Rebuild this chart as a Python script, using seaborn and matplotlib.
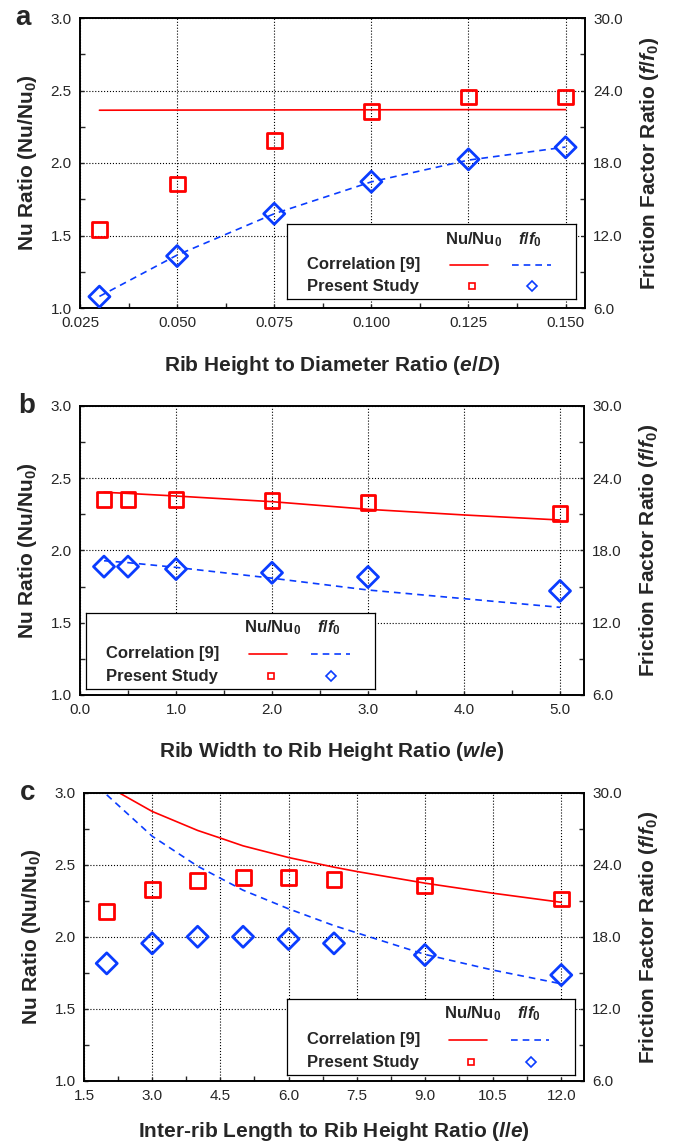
import matplotlib
matplotlib.use("Agg")
import matplotlib.pyplot as plt
from matplotlib.lines import Line2D
from matplotlib.ticker import MultipleLocator, FormatStrFormatter
import seaborn as sns

# panel a: rib height to diameter ratio
a_x = [0.03, 0.05, 0.075, 0.10, 0.125, 0.15]
a_nu_exp = [1.54, 1.855, 2.155, 2.355, 2.455, 2.455]
a_f_exp = [6.94, 10.3, 13.8, 16.45, 18.3, 19.3]
a_nu_corr = [2.364, 2.365, 2.366, 2.367, 2.368, 2.368]
a_f_corr = [6.96, 10.38, 13.8, 16.44, 18.24, 19.32]

# panel b: rib width to rib height ratio
b_x = [0.25, 0.5, 1.0, 2.0, 3.0, 5.0]
b_nu_exp = [2.354, 2.354, 2.354, 2.349, 2.331, 2.257]
b_f_exp = [16.66, 16.66, 16.46, 16.15, 15.8, 14.64]
b_corr_x = [0.25, 0.5, 1.0, 2.0, 3.0, 4.0, 5.0]
b_nu_corr = [2.403, 2.395, 2.377, 2.338, 2.285, 2.246, 2.211]
b_f_corr = [17.15, 16.99, 16.6, 15.7, 14.72, 14.0, 13.28]

# panel c: inter-rib length to rib height ratio
c_x = [2, 3, 4, 5, 6, 7, 9, 12]
c_nu_exp = [2.176, 2.332, 2.392, 2.413, 2.413, 2.397, 2.355, 2.264]
c_f_exp = [15.8, 17.47, 18.02, 18.02, 17.83, 17.47, 16.5, 14.83]
c_corr_x = [2, 3, 4, 4.5, 5, 6, 7, 7.5, 9, 10.5, 12]
c_nu_corr = [3.05, 2.872, 2.74, 2.687, 2.633, 2.552, 2.485, 2.455, 2.374, 2.304, 2.241]
c_f_corr = [29.85, 26.4, 23.9, 22.9, 21.9, 20.35, 18.95, 18.35, 16.55, 15.24, 14.1]

RED = "#ff0000"
BLUE = "#0a3cff"

sns.set_style("ticks")
plt.rcParams["font.family"] = ["Liberation Sans", "DejaVu Sans"]
plt.rcParams["mathtext.fontset"] = "custom"
plt.rcParams["mathtext.rm"] = "Liberation Sans:bold"
plt.rcParams["mathtext.bf"] = "Liberation Sans:bold"
plt.rcParams["mathtext.it"] = "Liberation Sans:italic:bold"

fig = plt.figure(figsize=(6.76, 11.46), dpi=100)
W, H = 676, 1146


def px_axes(left, top, right, bottom):
    return fig.add_axes([left / W, 1 - bottom / H, (right - left) / W, (bottom - top) / H])


def draw_legend(ax2, box):
    ins = ax2.inset_axes(box)
    ins.set_zorder(10)
    ins.set_facecolor("white")
    ins.set_xlim(0, 1)
    ins.set_ylim(0, 1)
    ins.set_xticks([])
    ins.set_yticks([])
    for s in ins.spines.values():
        s.set_linewidth(0.9)
        s.set_color("black")
    kw = dict(fontsize=12, fontweight="bold", va="center")
    ins.text(0.645, 0.80, r"Nu/Nu$_\mathrm{0}$", ha="center", **kw)
    ins.text(0.842, 0.80, r"$\mathit{f/f_0}$", ha="center", **kw)
    ins.text(0.07, 0.46, "Correlation [9]", ha="left", **kw)
    ins.text(0.07, 0.17, "Present Study", ha="left", **kw)
    ins.add_line(Line2D([0.565, 0.696], [0.46, 0.46], color=RED, lw=1.2))
    ins.add_line(Line2D([0.778, 0.913], [0.46, 0.46], color=BLUE, lw=1.2,
                        ls=(0, (4, 3))))
    ins.add_line(Line2D([0.64], [0.17], marker="s", ms=5, mfc="none",
                        mec=RED, mew=1.2, ls="none"))
    ins.add_line(Line2D([0.848], [0.17], marker="D", ms=5, mfc="none",
                        mec=BLUE, mew=1.2, ls="none"))


def panel(ax, xlim, xmajor, xfmt, xlabel, x_exp, nu_exp, f_exp,
          corr_x, nu_corr, f_corr, legbox, xpad):
    ax2 = ax.twinx()
    ax.set_xlim(*xlim)
    ax.set_ylim(1.0, 3.0)
    ax2.set_ylim(6.0, 30.0)

    sns.lineplot(x=corr_x, y=nu_corr, ax=ax, color=RED, linewidth=1.2, sort=False)
    sns.scatterplot(x=x_exp, y=nu_exp, ax=ax, marker="s", s=115, color=RED,
                    facecolor="none", edgecolor=RED, linewidth=2, zorder=4)
    sns.lineplot(x=corr_x, y=f_corr, ax=ax2, color=BLUE, linewidth=1.2,
                 linestyle=(0, (4, 3)), sort=False)
    sns.scatterplot(x=x_exp, y=f_exp, ax=ax2, marker="D", s=115, color=BLUE,
                    facecolor="none", edgecolor=BLUE, linewidth=2, zorder=4)

    ax.xaxis.set_major_locator(MultipleLocator(xmajor))
    ax.xaxis.set_minor_locator(MultipleLocator(xmajor / 2))
    ax.xaxis.set_major_formatter(FormatStrFormatter(xfmt))
    ax.yaxis.set_major_locator(MultipleLocator(0.5))
    ax.yaxis.set_minor_locator(MultipleLocator(0.25))
    ax.yaxis.set_major_formatter(FormatStrFormatter("%.1f"))
    ax2.yaxis.set_major_locator(MultipleLocator(6))
    ax2.yaxis.set_minor_locator(MultipleLocator(3))
    ax2.yaxis.set_major_formatter(FormatStrFormatter("%.1f"))

    ax.grid(True, which="major", color="black", linestyle=":", linewidth=0.8)
    ax.set_axisbelow(True)
    for a in (ax, ax2):
        a.tick_params(which="both", direction="in", labelsize=11, pad=6)
        a.tick_params(which="major", length=3, width=1)
        a.tick_params(which="minor", length=3.5, width=1)
        for s in a.spines.values():
            s.set_linewidth(1.2)
            s.set_color("black")
            s.set_visible(True)
    ax.tick_params(right=False, which="both")

    ax.set_xlabel(xlabel, fontsize=15, fontweight="bold", labelpad=xpad)
    ax.set_ylabel(r"Nu Ratio (Nu/Nu$_\mathrm{0}$)", fontsize=15,
                  fontweight="bold", labelpad=8)
    ax2.set_ylabel(r"Friction Factor Ratio ($\mathit{f/f_0}$)", fontsize=15,
                   fontweight="bold", labelpad=11)
    draw_legend(ax2, legbox)


ax_a = px_axes(80, 18, 585, 308)
panel(ax_a, (0.025, 0.155), 0.025, "%.3f", r"Rib Height to Diameter Ratio ($\mathit{e/D}$)",
      a_x, a_nu_exp, a_f_exp, a_x, a_nu_corr, a_f_corr,
      [0.409, 0.031, 0.573, 0.258], 17)

ax_b = px_axes(80, 406, 584, 695)
panel(ax_b, (0.0, 5.25), 1.0, "%.1f", r"Rib Width to Rib Height Ratio ($\mathit{w/e}$)",
      b_x, b_nu_exp, b_f_exp, b_corr_x, b_nu_corr, b_f_corr,
      [0.012, 0.021, 0.573, 0.263], 16)

ax_c = px_axes(84, 793, 584, 1081)
panel(ax_c, (1.5, 12.5), 1.5, "%.1f", r"Inter-rib Length to Rib Height Ratio ($\mathit{l/e}$)",
      c_x, c_nu_exp, c_f_exp, c_corr_x, c_nu_corr, c_f_corr,
      [0.406, 0.021, 0.575, 0.264], 12)

for letter, x, y in [("a", 15, 25), ("b", 18, 413), ("c", 20, 800)]:
    fig.text(x / W, 1 - y / H, letter, fontsize=20, fontweight="bold",
             ha="left", va="baseline")

fig.savefig("out.png", dpi=100)
